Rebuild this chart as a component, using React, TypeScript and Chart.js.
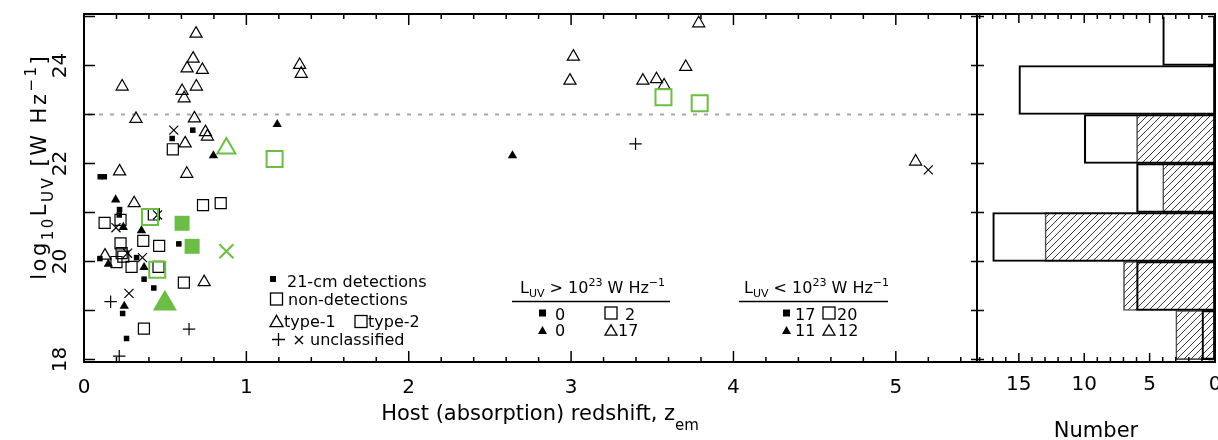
import React, { useEffect, useRef } from 'react';
import { Chart, registerables } from 'chart.js';

Chart.register(...registerables);

const FONT = '"DejaVu Sans", "Liberation Sans", sans-serif';
const GREEN = '#6cbd45';

// ---- axes ----
const zMin = 0;
const zMax = 5.5;
const luvMin = 17.95;
const luvMax = 25.05;
const zTickLabels = [0, 1, 2, 3, 4, 5];
const luvTickLabels = [18, 20, 22, 24];
const numberTickLabels = [0, 5, 10, 15];
const numberMax = 18.2;
const luvThreshold = 23;

type Pt = [number, number];

// ---- scatter data: [z, log10 L_UV] ----
const type1Detections: Pt[] = [
  [1.19, 22.8], [0.797, 22.16], [2.639, 22.16], [0.195, 21.26], [0.242, 20.7],
  [0.354, 20.63], [0.15, 19.95], [0.37, 19.88], [0.248, 19.09],
];
const type2Detections: Pt[] = [
  [0.67, 22.68], [0.543, 22.51], [0.1, 21.73], [0.125, 21.73], [0.219, 21.06],
  [0.217, 20.95], [0.584, 20.36], [0.098, 20.06], [0.324, 20.08], [0.37, 19.64],
  [0.43, 19.46], [0.238, 18.94], [0.262, 18.43],
];
const type1NonDetections: Pt[] = [
  [0.69, 24.65], [0.672, 24.14], [0.635, 23.94], [0.729, 23.91], [0.235, 23.57],
  [0.604, 23.48], [0.692, 23.57], [0.617, 23.33], [0.32, 22.91], [0.68, 22.92],
  [0.748, 22.64], [0.76, 22.55], [0.623, 22.41], [0.219, 21.84], [0.633, 21.79],
  [0.309, 21.19], [0.129, 20.12], [0.74, 19.58], [1.328, 24.01], [1.338, 23.83],
  [3.014, 24.18], [2.993, 23.69], [3.442, 23.69], [3.526, 23.72], [3.573, 23.59],
  [3.706, 23.97], [3.786, 24.86], [5.122, 22.04],
];
const type2NonDetections: Pt[] = [
  [0.547, 22.29], [0.733, 21.15], [0.842, 21.19], [0.127, 20.79], [0.225, 20.85],
  [0.43, 20.96], [0.365, 20.42], [0.225, 20.37], [0.463, 20.32], [0.232, 20.17],
  [0.242, 20.1], [0.2, 19.99], [0.293, 19.89], [0.459, 19.89], [0.615, 19.57],
  [0.369, 18.63],
];
const unclassifiedPlus: Pt[] = [[3.397, 22.4], [0.164, 19.18], [0.647, 18.62], [0.217, 18.07]];
const unclassifiedCross: Pt[] = [
  [0.553, 22.68], [0.197, 20.69], [0.453, 20.95], [0.268, 20.17], [0.36, 20.08],
  [0.277, 19.35], [5.2, 21.87],
];
const greenType2Detections: Pt[] = [[0.604, 20.78], [0.666, 20.31]];
const greenType2NonDetections: Pt[] = [[1.174, 22.09], [0.406, 20.91], [0.451, 19.83], [3.569, 23.35], [3.792, 23.23]];
const greenType1NonDetections: Pt[] = [[0.877, 22.31]];
const greenType1Detections: Pt[] = [[0.498, 19.14]];
const greenUnclassifiedCross: Pt[] = [[0.877, 20.21]];

// ---- histogram ----
const binCentres = [18.5, 19.5, 20.5, 21.5, 22.5, 23.5, 24.5];
const binTotals = [1, 6, 17, 6, 10, 15, 4];
const binHatched = [3, 7, 13, 4, 6, 0, 0];

// ---- legend counts: ■ □ ▲ △ ----
const countsAbove = ['0', '2', '0', '17'];
const countsBelow = ['17', '20', '11', '12'];

type Seg = { t: string; k?: 'sub' | 'sup' };

function drawRich(
  ctx: CanvasRenderingContext2D, segs: Seg[], x: number, y: number, size: number,
  align: 'left' | 'center', subDy: number, supDy: number, gap = 0,
) {
  const small = Math.round(size * 0.7);
  const fontOf = (s: Seg) => `${s.k ? small : size}px ${FONT}`;
  const widths = segs.map((s) => {
    ctx.font = fontOf(s);
    return ctx.measureText(s.t).width + gap * s.t.length;
  });
  const total = widths.reduce((a, b) => a + b, 0) - gap;
  let cx = align === 'center' ? x - total / 2 : x;
  ctx.textAlign = 'left';
  ctx.textBaseline = 'alphabetic';
  segs.forEach((s) => {
    ctx.font = fontOf(s);
    const dy = s.k === 'sub' ? subDy : s.k === 'sup' ? supDy : 0;
    if (gap === 0) {
      ctx.fillText(s.t, cx, y + dy);
      cx += ctx.measureText(s.t).width;
    } else {
      for (const ch of s.t) {
        ctx.fillText(ch, cx, y + dy);
        cx += ctx.measureText(ch).width + gap;
      }
    }
  });
}

type MK = 'sqF' | 'sq' | 'triF' | 'tri' | 'plus' | 'cross';
function mark(ctx: CanvasRenderingContext2D, kind: MK, cx: number, cy: number, s: number) {
  ctx.beginPath();
  if (kind === 'sqF') { ctx.fillRect(cx - s / 2, cy - s / 2, s, s); return; }
  if (kind === 'sq') { ctx.strokeRect(cx - s / 2, cy - s / 2, s, s); return; }
  if (kind === 'tri' || kind === 'triF') {
    const h = s * 0.866;
    ctx.moveTo(cx, cy - h / 2);
    ctx.lineTo(cx + s / 2, cy + h / 2);
    ctx.lineTo(cx - s / 2, cy + h / 2);
    ctx.closePath();
    if (kind === 'triF') ctx.fill(); else ctx.stroke();
    return;
  }
  if (kind === 'plus') {
    ctx.moveTo(cx - s / 2, cy); ctx.lineTo(cx + s / 2, cy);
    ctx.moveTo(cx, cy - s / 2); ctx.lineTo(cx, cy + s / 2);
  } else {
    ctx.moveTo(cx - s / 2, cy - s / 2); ctx.lineTo(cx + s / 2, cy + s / 2);
    ctx.moveTo(cx - s / 2, cy + s / 2); ctx.lineTo(cx + s / 2, cy - s / 2);
  }
  ctx.stroke();
}

const mainDecor = {
  id: 'mainDecor',
  afterDraw(chart: any) {
    const { ctx, chartArea: a, scales } = chart;
    const x = scales.x;
    const y = scales.y;
    ctx.save();
    ctx.strokeStyle = '#000';
    ctx.fillStyle = '#000';
    ctx.lineWidth = 2;
    ctx.strokeRect(a.left, a.top, a.right - a.left, a.bottom - a.top);
    ctx.lineWidth = 1.5;
    ctx.beginPath();
    for (let i = 0; i <= 27; i++) {
      const px = x.getPixelForValue(i * 0.2);
      const len = i % 5 === 0 ? 11 : 5;
      ctx.moveTo(px, a.bottom); ctx.lineTo(px, a.bottom - len);
      ctx.moveTo(px, a.top); ctx.lineTo(px, a.top + len);
    }
    for (let v = 18; v <= 25; v++) {
      const py = y.getPixelForValue(v);
      ctx.moveTo(a.left, py); ctx.lineTo(a.left + 11, py);
      ctx.moveTo(a.right, py); ctx.lineTo(a.right - 6, py);
    }
    ctx.stroke();

    // axis titles
    drawRich(ctx, [{ t: 'Host (absorption) redshift, z' }, { t: 'em', k: 'sub' }], 540, 420, 21, 'center', 10, -9);
    ctx.save();
    ctx.translate(46, 168);
    ctx.rotate(-Math.PI / 2);
    drawRich(ctx, [
      { t: 'log' }, { t: '10', k: 'sub' }, { t: 'L' }, { t: 'UV', k: 'sub' },
      { t: ' [W Hz' }, { t: '−1', k: 'sup' }, { t: ']' },
    ], 0, 0, 21, 'center', 7, -10, 2.5);
    ctx.restore();

    // symbol legend
    ctx.lineWidth = 1.3;
    const fs = 16;
    mark(ctx, 'sqF', 273, 279, 6);
    drawRich(ctx, [{ t: '21-cm detections' }], 287, 287, fs, 'left', 0, 0);
    mark(ctx, 'sq', 276.5, 299, 12);
    drawRich(ctx, [{ t: 'non-detections' }], 288, 305, fs, 'left', 0, 0);
    mark(ctx, 'tri', 276.5, 321, 13);
    drawRich(ctx, [{ t: 'type-1' }], 284, 327, fs, 'left', 0, 0);
    mark(ctx, 'sq', 361, 321.5, 12);
    drawRich(ctx, [{ t: 'type-2' }], 368, 327, fs, 'left', 0, 0);
    mark(ctx, 'plus', 278.5, 339.5, 13);
    mark(ctx, 'cross', 299, 340, 8);
    drawRich(ctx, [{ t: 'unclassified' }], 310, 345, fs, 'left', 0, 0);

    // count tables
    const blocks = [
      { cx: 592.5, l: 512, r: 670, op: '>', counts: countsAbove, sx: 542.5, tx: [555, 625, 555, 618], ox: 611 },
      { cx: 816.5, l: 739, r: 888, op: '<', counts: countsBelow, sx: 786.5, tx: [795, 837, 795, 838], ox: 829 },
    ];
    blocks.forEach((b) => {
      drawRich(ctx, [
        { t: 'L' }, { t: 'UV', k: 'sub' }, { t: ` ${b.op} 10` }, { t: '23', k: 'sup' },
        { t: ' W Hz' }, { t: '−1', k: 'sup' },
      ], b.cx, 293, fs, 'center', 4, -7);
      ctx.lineWidth = 1.5;
      ctx.beginPath();
      ctx.moveTo(b.l, 301.5); ctx.lineTo(b.r, 301.5);
      ctx.stroke();
      ctx.lineWidth = 1.3;
      mark(ctx, 'sqF', b.sx, 313, 7);
      mark(ctx, 'sq', b.ox, 313, 12);
      mark(ctx, 'triF', b.sx, 330, 9);
      mark(ctx, 'tri', b.ox, 330, 12);
      drawRich(ctx, [{ t: b.counts[0] }], b.tx[0], 320, fs, 'left', 0, 0);
      drawRich(ctx, [{ t: b.counts[1] }], b.tx[1], 320, fs, 'left', 0, 0);
      drawRich(ctx, [{ t: b.counts[2] }], b.tx[2], 336, fs, 'left', 0, 0);
      drawRich(ctx, [{ t: b.counts[3] }], b.tx[3], 336, fs, 'left', 0, 0);
    });
    ctx.restore();
  },
};

const histDecor = {
  id: 'histDecor',
  afterDraw(chart: any) {
    const { ctx, chartArea: a, scales } = chart;
    const x = scales.x;
    const y = scales.y;
    ctx.save();
    ctx.strokeStyle = '#000';
    ctx.fillStyle = '#000';
    ctx.lineWidth = 2;
    ctx.strokeRect(a.left, a.top, a.right - a.left, a.bottom - a.top);
    ctx.lineWidth = 1.5;
    ctx.beginPath();
    for (let v = 0; v <= 18; v++) {
      const px = x.getPixelForValue(v);
      const len = v % 5 === 0 ? 9 : 5;
      ctx.moveTo(px, a.bottom); ctx.lineTo(px, a.bottom - len);
      ctx.moveTo(px, a.top); ctx.lineTo(px, a.top + len);
    }
    for (let v = 18; v <= 25; v++) {
      const py = y.getPixelForValue(v);
      ctx.moveTo(a.left, py); ctx.lineTo(a.left + 7, py);
      ctx.moveTo(a.right, py); ctx.lineTo(a.right - 7, py);
    }
    ctx.stroke();
    drawRich(ctx, [{ t: 'Number' }], 1096 - 976, 437, 21, 'center', 0, 0);
    ctx.restore();
  },
};

function pts(p: Pt[]) {
  return p.map(([x, y]) => ({ x, y }));
}

function markers(label: string, p: Pt[], style: string, r: number, color: string, filled: boolean, lw: number) {
  return {
    label,
    data: pts(p),
    pointStyle: style,
    pointRadius: r,
    pointHoverRadius: r,
    pointBorderColor: color,
    pointBackgroundColor: filled ? color : 'rgba(0,0,0,0)',
    pointBorderWidth: filled ? 0 : lw,
    borderColor: color,
    backgroundColor: filled ? color : 'rgba(0,0,0,0)',
    showLine: false,
    clip: false,
    order: 0,
  };
}

function makeHatch(): CanvasPattern | string {
  const c = document.createElement('canvas');
  c.width = 7; c.height = 7;
  const g = c.getContext('2d');
  if (!g) return '#ccc';
  g.strokeStyle = '#222';
  g.lineWidth = 0.9;
  g.beginPath();
  g.moveTo(0, 7); g.lineTo(7, 0);
  g.moveTo(-1, 1); g.lineTo(1, -1);
  g.moveTo(6, 8); g.lineTo(8, 6);
  g.stroke();
  return g.createPattern(c, 'repeat') || '#ccc';
}

const tickFont = { family: FONT, size: 20 };
const lastBin = binCentres.length - 1;

export default function App() {
  const mainRef = useRef<HTMLCanvasElement>(null);
  const histRef = useRef<HTMLCanvasElement>(null);

  useEffect(() => {
    if (!mainRef.current || !histRef.current) return;
    const main = new Chart(mainRef.current, {
      type: 'scatter',
      data: {
        datasets: [
          markers('type-1 detections (new)', greenType1Detections, 'triangle', 13.9, GREEN, true, 2),
          markers('type-2 detections (new)', greenType2Detections, 'rect', 10.6, GREEN, true, 2),
          markers('type-1 non-detections (new)', greenType1NonDetections, 'triangle', 10.4, GREEN, false, 2),
          markers('type-2 non-detections (new)', greenType2NonDetections, 'rect', 11.3, GREEN, false, 2),
          markers('unclassified (new)', greenUnclassifiedCross, 'crossRot', 9.9, GREEN, false, 2),
          markers('type-1 detections', type1Detections, 'triangle', 5.4, '#000', true, 1.2),
          markers('type-2 detections', type2Detections, 'rect', 3.9, '#000', true, 1.2),
          markers('type-1 non-detections', type1NonDetections, 'triangle', 7, '#000', false, 1.2),
          markers('type-2 non-detections', type2NonDetections, 'rect', 7.8, '#000', false, 1.2),
          markers('unclassified +', unclassifiedPlus, 'cross', 6.2, '#000', false, 1.2),
          markers('unclassified x', unclassifiedCross, 'crossRot', 6.4, '#000', false, 1.2),
          {
            label: 'threshold',
            data: [{ x: zMin, y: luvThreshold }, { x: zMax, y: luvThreshold }],
            showLine: true,
            borderColor: '#a8a8a8',
            borderWidth: 2,
            borderDash: [4, 7],
            borderDashOffset: -4,
            pointRadius: 0,
            order: 10,
          } as any,
        ],
      },
      options: {
        responsive: false,
        animation: false,
        events: [],
        devicePixelRatio: 1,
        layout: { autoPadding: false, padding: { top: 14, right: 1, left: 0, bottom: 0 } },
        plugins: { legend: { display: false }, tooltip: { enabled: false } },
        scales: {
          x: {
            type: 'linear', min: zMin, max: zMax, position: 'bottom',
            grid: { display: false, drawTicks: false }, border: { display: false },
            ticks: { font: tickFont, color: '#000', padding: 14, maxRotation: 0, minRotation: 0, autoSkip: false },
            afterBuildTicks: (s: any) => { s.ticks = zTickLabels.map((v) => ({ value: v })); },
            afterFit: (s: any) => { s.height = 78; s.paddingLeft = 0; s.paddingRight = 0; },
          },
          y: {
            type: 'linear', min: luvMin, max: luvMax, position: 'left',
            grid: { display: false, drawTicks: false }, border: { display: false },
            ticks: { font: tickFont, color: '#000', padding: 10, minRotation: 90, maxRotation: 90, crossAlign: 'center', autoSkip: false },
            afterBuildTicks: (s: any) => { s.ticks = luvTickLabels.map((v) => ({ value: v })); },
            afterFit: (s: any) => { s.width = 84; s.paddingTop = 0; s.paddingBottom = 0; },
          },
        },
      } as any,
      plugins: [mainDecor],
    });

    const hatch = makeHatch();
    const hist = new Chart(histRef.current, {
      type: 'bar',
      data: {
        datasets: [
          {
            label: 'all',
            data: binCentres.map((c, i) => ({ x: binTotals[i], y: c })),
            backgroundColor: 'rgba(0,0,0,0)',
            borderColor: '#000',
            borderWidth: 1.5,
            borderSkipped: (c: any) => (c.dataIndex === lastBin ? 'top' : false),
            grouped: false,
            barPercentage: 1,
            categoryPercentage: 1,
          },
          {
            label: 'hatched',
            data: binCentres.map((c, i) => ({ x: binHatched[i], y: c })),
            backgroundColor: hatch,
            borderColor: '#555',
            borderWidth: 1,
            borderSkipped: false,
            grouped: false,
            barPercentage: 1,
            categoryPercentage: 1,
          },
        ],
      } as any,
      options: {
        indexAxis: 'y',
        responsive: false,
        animation: false,
        events: [],
        devicePixelRatio: 1,
        layout: { autoPadding: false, padding: { top: 14, right: 3, left: 1, bottom: 0 } },
        plugins: { legend: { display: false }, tooltip: { enabled: false } },
        scales: {
          x: {
            type: 'linear', reverse: true, min: 0, max: numberMax, position: 'bottom',
            grid: { display: false, drawTicks: false }, border: { display: false },
            ticks: { font: tickFont, color: '#000', padding: 11, maxRotation: 0, minRotation: 0, autoSkip: false },
            afterBuildTicks: (s: any) => { s.ticks = numberTickLabels.map((v) => ({ value: v })); },
            afterFit: (s: any) => { s.height = 78; s.paddingLeft = 0; s.paddingRight = 0; },
          },
          y: { type: 'linear', min: luvMin, max: luvMax, offset: false, display: false },
        },
      } as any,
      plugins: [histDecor],
    });

    return () => { main.destroy(); hist.destroy(); };
  }, []);

  return (
    <div style={{ position: 'absolute', left: 0, top: 0, width: 1218, height: 440, background: '#fff', overflow: 'hidden' }}>
      <canvas ref={mainRef} width={978} height={440} style={{ position: 'absolute', left: 0, top: 0, width: 978, height: 440 }} />
      <canvas ref={histRef} width={242} height={440} style={{ position: 'absolute', left: 976, top: 0, width: 242, height: 440 }} />
    </div>
  );
}
